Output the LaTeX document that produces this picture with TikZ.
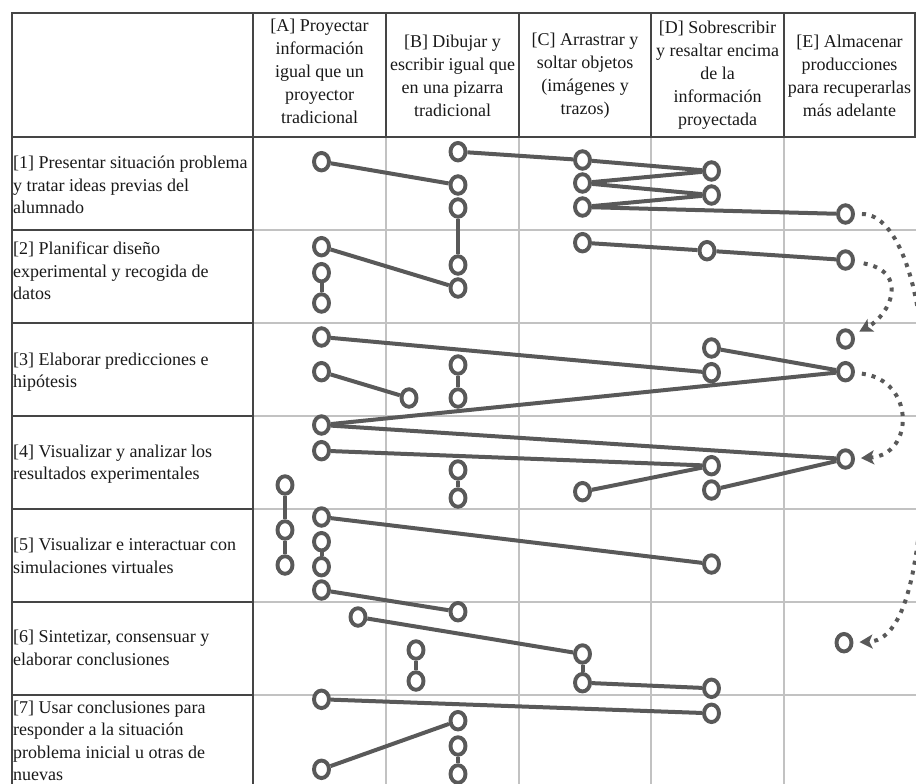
\documentclass[tikz,border=0pt]{standalone}
\usepackage{fontspec}
\setmainfont{Liberation Serif}
\usepackage{tikz}
\usetikzlibrary{arrows.meta}
\usetikzlibrary{shapes}
\definecolor{ink}{HTML}{595959}
\definecolor{rulecol}{HTML}{454545}
\definecolor{gridcol}{HTML}{C2C2C2}
\tikzset{>={Stealth[length=13pt,width=14pt,inset=3pt]},
  spot/.style={ellipse,draw=ink,line width=3.9pt,fill=white,
    minimum width=15pt,minimum height=17.5pt,inner sep=0pt},
  link/.style={draw=ink,line width=4pt},
  later/.style={->,draw=ink,line width=4pt,dash pattern=on 4pt off 6pt,
    shorten <=7pt,shorten >=6pt},
  frame/.style={draw=rulecol,line width=1.6pt},
  gridline/.style={draw=gridcol,line width=1.4pt},
  colhead/.style={align=center,text=black!90,font=\fontsize{18}{23}\selectfont},
  rowtext/.style={anchor=west,align=left,inner sep=0pt,text=black!90,
    font=\fontsize{18}{22.5}\selectfont}}

\begin{document}
\begin{tikzpicture}[x=1pt,y=-1pt]
    \useasboundingbox (0,0) rectangle (916,784);
    \clip (0,0) rectangle (916,784);

    % table
    \draw[gridline] (253,230) -- (916,230) (253,323) -- (916,323)
      (253,416) -- (916,416) (253,509) -- (916,509)
      (253,602) -- (916,602) (253,695) -- (916,695);
    \draw[gridline] (386,137) -- (386,790) (519,137) -- (519,790)
      (651,137) -- (651,790) (784,137) -- (784,790);
    \draw[frame] (12,230) -- (253,230) (12,323) -- (253,323)
      (12,416) -- (253,416) (12,509) -- (253,509)
      (12,602) -- (253,602) (12,695) -- (253,695);
    \draw[frame] (386,13) -- (386,137) (519,13) -- (519,137)
      (651,13) -- (651,137) (784,13) -- (784,137);
    \draw[frame] (12,790) -- (12,13) -- (915,13) -- (915,137) -- (12,137);
    \draw[frame] (253,13) -- (253,790);

    % headers
    \node[colhead] (hA) at (319.5,71) {[A] Proyectar\\información\\igual que un\\proyector\\tradicional};
    \node[colhead] (hB) at (452.5,76) {[B] Dibujar y\\escribir igual que\\en una pizarra\\tradicional};
    \node[colhead] (hC) at (585,76) {[C] Arrastrar y\\soltar objetos\\(imágenes y\\trazos)};
    \node[colhead] (hD) at (717.5,75) {[D] Sobrescribir\\y resaltar encima\\de la\\información\\proyectada};
    \node[colhead] (hE) at (849.5,76) {[E] Almacenar\\producciones\\para recuperarlas\\más adelante};

    \node[rowtext] (r1) at (13,185) {[1] Presentar situación problema\\y tratar ideas previas del\\alumnado};
    \node[rowtext] (r2) at (13,271) {[2] Planificar diseño\\experimental y recogida de\\datos};
    \node[rowtext] (r3) at (13,372) {[3] Elaborar predicciones e\\hipótesis};
    \node[rowtext] (r4) at (13,464) {[4] Visualizar y analizar los\\resultados experimentales};
    \node[rowtext] (r5) at (13,556) {[5] Visualizar e interactuar con\\simulaciones virtuales};
    \node[rowtext] (r6) at (13,648) {[6] Sintetizar, consensuar y\\elaborar conclusiones};
    \node[rowtext] (r7) at (13,741) {[7] Usar conclusiones para\\responder a la situación\\problema inicial u otras de\\nuevas};

    % column A
    \node[spot] (a1) at (321.5,161.7) {};
    \node[spot] (a2) at (321.5,246.7) {};
    \node[spot] (a3) at (321.5,272.7) {};
    \node[spot] (a4) at (321.5,303) {};
    \node[spot] (a5) at (321.5,337) {};
    \node[spot] (a6) at (321.5,371.7) {};
    \node[spot] (a7) at (321.5,425) {};
    \node[spot] (a8) at (321.5,450.7) {};
    \node[spot] (a9) at (321.5,517) {};
    \node[spot] (a10) at (321.5,541.7) {};
    \node[spot] (a11) at (321.5,566.7) {};
    \node[spot] (a12) at (321.5,590) {};
    \node[spot] (a13) at (321.5,699.3) {};
    \node[spot] (a14) at (321.5,769.3) {};
    \node[spot] (l1) at (285,485) {};
    \node[spot] (l2) at (285,530) {};
    \node[spot] (l3) at (285,565) {};
    \node[spot] (ab1) at (409,398) {};
    \node[spot] (ab2) at (358,617) {};
    \node[spot] (ab3) at (416,650) {};
    \node[spot] (ab4) at (416,681) {};

    % column B
    \node[spot] (b1) at (458,151.7) {};
    \node[spot] (b2) at (458,185) {};
    \node[spot] (b3) at (458,208) {};
    \node[spot] (b4) at (458,265) {};
    \node[spot] (b5) at (458,288) {};
    \node[spot] (b6) at (458,365) {};
    \node[spot] (b7) at (458,398) {};
    \node[spot] (b8) at (458,470) {};
    \node[spot] (b9) at (458,498) {};
    \node[spot] (b10) at (458,611.7) {};
    \node[spot] (b11) at (458,720.7) {};
    \node[spot] (b12) at (458,746) {};
    \node[spot] (b13) at (458,774) {};

    % column C
    \node[spot] (c1) at (582.5,160) {};
    \node[spot] (c2) at (582.5,183) {};
    \node[spot] (c3) at (582.5,207) {};
    \node[spot] (c4) at (582.5,242.7) {};
    \node[spot] (c5) at (582.5,491.7) {};
    \node[spot] (c6) at (582.5,654) {};
    \node[spot] (c7) at (582.5,682.7) {};

    % column D
    \node[spot] (d1) at (711.5,171) {};
    \node[spot] (d2) at (711.5,195) {};
    \node[spot] (d3) at (707,250.7) {};
    \node[spot] (d4) at (711.5,348) {};
    \node[spot] (d5) at (711.5,372.7) {};
    \node[spot] (d6) at (711.5,465.7) {};
    \node[spot] (d7) at (711.5,490) {};
    \node[spot] (d8) at (711.5,564) {};
    \node[spot] (d9) at (711.5,688.3) {};
    \node[spot] (d10) at (711.5,713.3) {};

    % column E
    \node[spot] (e1) at (845.5,214) {};
    \node[spot] (e2) at (845.5,260) {};
    \node[spot] (e3) at (845.5,339) {};
    \node[spot] (e4) at (845.5,371.7) {};
    \node[spot] (e5) at (845.5,459) {};
    \node[spot] (e6) at (844,642.7) {};

    % stage 1
    \path[link] (a1) edge (b2);
    \path[link] (b1) edge (c1);
    \path[link] (c1) edge (d1);
    \path[link] (d1) edge (c2);
    \path[link] (c2) edge (d2);
    \path[link] (d2) edge (c3);
    \path[link] (c3) edge (e1);
    \path[link] (b3) edge (b4);
    % stage 2
    \path[link] (a2) edge (b5);
    \path[link] (a3) edge (a4);
    \path[link] (c4) edge (d3);
    \path[link] (d3) edge (e2);
    % stage 3
    \path[link] (a5) edge (d5);
    \path[link] (d4) edge (e4);
    \path[link] (e4) edge (a7);
    \path[link] (a6) edge (ab1);
    \path[link] (b6) edge (b7);
    % stage 4
    \path[link] (a7) edge (e5);
    \path[link] (e5) edge (d7);
    \path[link] (a8) edge (d6);
    \path[link] (d6) edge (c5);
    \path[link] (b8) edge (b9);
    \path[link] (l1) edge (l2);
    \path[link] (l2) edge (l3);
    % stage 5
    \path[link] (a9) edge (d8);
    \path[link] (a10) edge (a11);
    \path[link] (a12) edge (b10);
    % stage 6
    \path[link] (ab2) edge (c6);
    \path[link] (c6) edge (c7);
    \path[link] (c7) edge (d9);
    \path[link] (ab3) edge (ab4);
    % stage 7
    \path[link] (a13) edge (d10);
    \path[link] (a14) edge (b11);
    \path[link] (b12) edge (b13);

    % stored and recovered
    \draw[later] (e1) .. controls (898,214) and (925,290) .. (925,400)
      .. controls (925,520) and (915,640) .. (e6);
    \draw[later,shorten <=9pt] (e2) .. controls (910,272) and (890,315) .. (e3);
    \draw[later] (e4) .. controls (915,380) and (915,455) .. (e5);
\end{tikzpicture}
\end{document}
